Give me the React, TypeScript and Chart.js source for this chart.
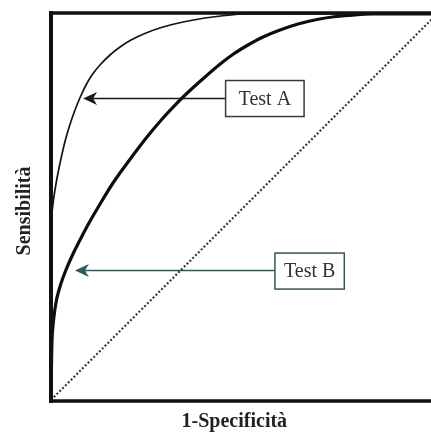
import { useEffect, useRef } from "react";
import { Chart, registerables } from "chart.js";

Chart.register(...registerables);

// ROC curve of Test A (thin line): 1-specificity / sensitivity
const testAX = [0, 0.0026, 0.0065, 0.0124, 0.0197, 0.028, 0.0373, 0.0487, 0.0622, 0.0759, 0.0907, 0.1062, 0.1269, 0.1528, 0.1788, 0.2073, 0.2461, 0.2902, 0.342, 0.399, 0.4508, 0.5026, 1];
const testAY = [0, 0.4793, 0.5181, 0.557, 0.5959, 0.6347, 0.6736, 0.7124, 0.7513, 0.785, 0.8161, 0.842, 0.8679, 0.8938, 0.9145, 0.9326, 0.9508, 0.9663, 0.9793, 0.9896, 0.9961, 1, 1];

// ROC curve of Test B (thick line)
const testBX = [0, 0.0026, 0.0065, 0.0142, 0.0246, 0.0376, 0.0557, 0.0751, 0.0984, 0.1256, 0.1606, 0.2034, 0.2487, 0.2902, 0.3264, 0.3614, 0.399, 0.4352, 0.4728, 0.5104, 0.5492, 0.5933, 0.6399, 0.6891, 0.7383, 0.7876, 0.8316, 1];
const testBY = [0, 0.1554, 0.2073, 0.2591, 0.2979, 0.3342, 0.3756, 0.4145, 0.4585, 0.5052, 0.5622, 0.6218, 0.6813, 0.7306, 0.7694, 0.8031, 0.8368, 0.8679, 0.8964, 0.9197, 0.9404, 0.9585, 0.9741, 0.9858, 0.9935, 0.9979, 1, 1];

// chance diagonal
const diagX = [0, 1];
const diagY = [0, 1];

// callouts
const calloutLabels = ["Test A", "Test B"];
const calloutX = [0.554, 0.67];
const calloutY = [0.781, 0.334];
const arrowTipX = [0.083, 0.062];

const xTitle = "1-Specificità";
const yTitle = "Sensibilità";

const toPoints = (xs: number[], ys: number[]) => xs.map((x, i) => ({ x, y: ys[i] }));

const decorPlugin = {
  id: "decor",
  afterDatasetsDraw(chart: any) {
    const { ctx, chartArea, scales } = chart;
    const { left, top, bottom } = chartArea;
    const W = chart.width;
    const xs = scales.x;
    const ys = scales.y;
    ctx.save();

    // frame
    ctx.strokeStyle = "#111";
    ctx.lineCap = "butt";
    ctx.lineWidth = 3.5;
    ctx.beginPath();
    ctx.moveTo(left - 2, top - 1);
    ctx.lineTo(W, top - 1);
    ctx.stroke();
    ctx.beginPath();
    ctx.moveTo(left - 2, bottom + 1);
    ctx.lineTo(W, bottom + 1);
    ctx.stroke();
    ctx.lineWidth = 4;
    ctx.beginPath();
    ctx.moveTo(left, top - 3);
    ctx.lineTo(left, bottom + 3);
    ctx.stroke();

    // callouts
    const boxColors = ["#3a3a3a", "#3b5555"];
    const arrowColors = ["#1a1a1a", "#2e5a5a"];
    const pads = [13, 9];
    ctx.font = "20px 'Liberation Serif', serif";
    ctx.textAlign = "center";
    ctx.textBaseline = "middle";
    calloutLabels.forEach((label, i) => {
      const cx = xs.getPixelForValue(calloutX[i]);
      const cy = ys.getPixelForValue(calloutY[i]);
      const tw = ctx.measureText(label).width;
      const w = tw + pads[i] * 2;
      const h = 36;
      const bx = cx - w / 2;
      const by = cy - h / 2;
      const tip = xs.getPixelForValue(arrowTipX[i]);
      const ay = Math.round(cy) - 0.5;
      // arrow shaft
      ctx.strokeStyle = arrowColors[i];
      ctx.lineWidth = 1.5;
      ctx.beginPath();
      ctx.moveTo(bx, ay);
      ctx.lineTo(tip + 8, ay);
      ctx.stroke();
      // arrow head
      ctx.fillStyle = arrowColors[i];
      ctx.beginPath();
      ctx.moveTo(tip, ay);
      ctx.lineTo(tip + 14, ay - 6.5);
      ctx.lineTo(tip + 10, ay);
      ctx.lineTo(tip + 14, ay + 6.5);
      ctx.closePath();
      ctx.fill();
      // box
      ctx.fillStyle = "#ffffff";
      ctx.fillRect(bx, by, w, h);
      ctx.strokeStyle = boxColors[i];
      ctx.lineWidth = 1.5;
      ctx.strokeRect(bx, by, w, h);
      ctx.fillStyle = "#333";
      ctx.fillText(label, cx, cy + 1);
    });

    // axis titles
    ctx.fillStyle = "#222";
    ctx.font = "bold 20px 'Liberation Serif', serif";
    ctx.textAlign = "center";
    ctx.textBaseline = "middle";
    ctx.fillText(xTitle, left + (chartArea.right - left) * 0.475, bottom + 22);
    ctx.save();
    ctx.translate(left - 26, (top + bottom) / 2 + 4);
    ctx.rotate(-Math.PI / 2);
    ctx.fillText(yTitle, 0, 0);
    ctx.restore();

    ctx.restore();
  },
};

export default function App() {
  const ref = useRef<HTMLCanvasElement | null>(null);
  useEffect(() => {
    if (!ref.current) return;
    const chart = new Chart(ref.current, {
      type: "scatter",
      data: {
        datasets: [
          {
            label: "Diagonale",
            data: toPoints(diagX, diagY),
            showLine: true,
            borderColor: "#2f4040",
            borderWidth: 2.2,
            borderDash: [2, 2],
            pointRadius: 0,
          },
          {
            label: "Test A",
            data: toPoints(testAX, testAY),
            showLine: true,
            borderColor: "#141414",
            borderWidth: 1.7,
            tension: 0.35,
            pointRadius: 0,
          },
          {
            label: "Test B",
            data: toPoints(testBX, testBY),
            showLine: true,
            borderColor: "#0d0d0d",
            borderWidth: 3.2,
            tension: 0.35,
            pointRadius: 0,
          },
        ],
      },
      options: {
        responsive: false,
        animation: false,
        devicePixelRatio: 1,
        layout: { padding: { left: 51, top: 14, right: 3, bottom: 33 } },
        plugins: { legend: { display: false }, tooltip: { enabled: false } },
        scales: {
          x: { type: "linear", min: 0, max: 1, display: false },
          y: { type: "linear", min: 0, max: 1, display: false },
        },
      },
      plugins: [decorPlugin],
    });
    return () => chart.destroy();
  }, []);
  return (
    <div
      style={{
        position: "fixed",
        left: 0,
        top: 0,
        width: 431,
        height: 433,
        overflow: "hidden",
        background: "#fff",
      }}
    >
      <canvas ref={ref} width={440} height={433} style={{ display: "block", width: 440, height: 433 }} />
    </div>
  );
}
